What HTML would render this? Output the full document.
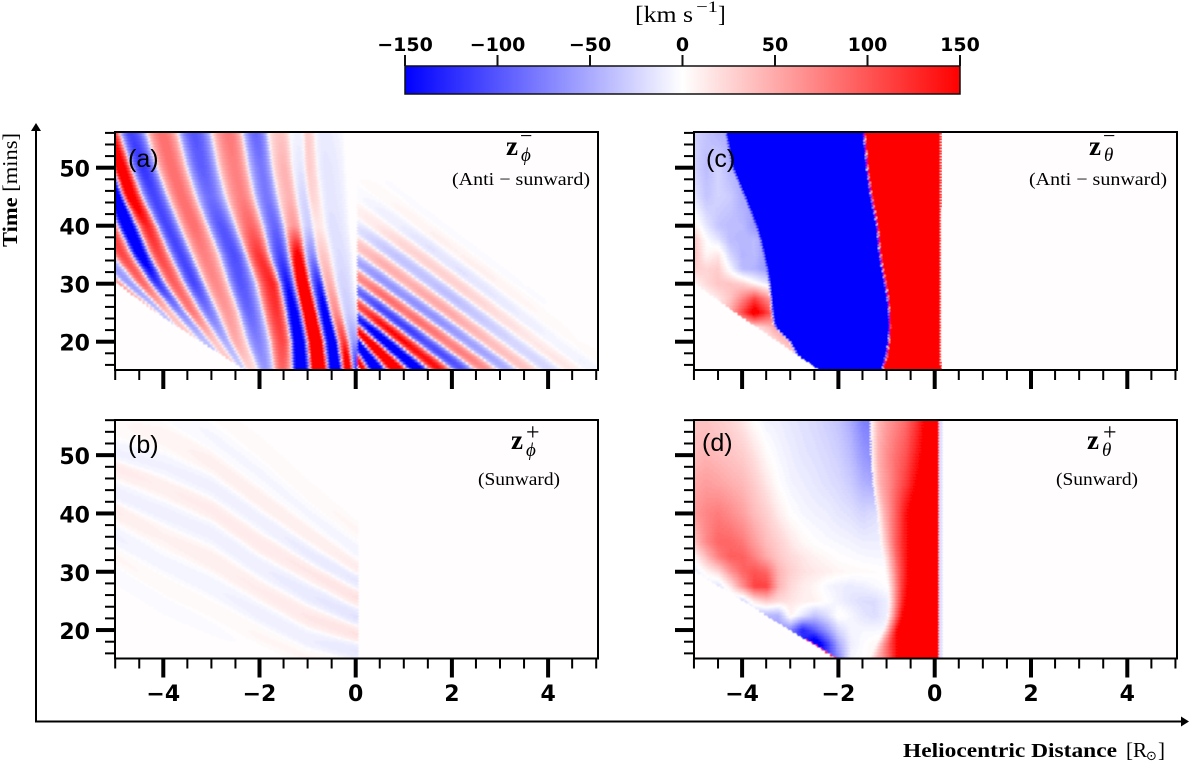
<!DOCTYPE html>
<html lang="en">
<head>
<meta charset="utf-8">
<title>Elsasser variable time-distance maps</title>
<style>
html,body{margin:0;padding:0;background:#fff;}
svg{display:block;}
.tick{font-family:"DejaVu Sans",sans-serif;font-weight:700;fill:#000;}
.cm{font-family:"Liberation Serif",serif;fill:#000;}
.letter{font-family:"Liberation Sans",sans-serif;font-size:25px;fill:#000;}
</style>
</head>
<body>
<svg id="figure" xmlns="http://www.w3.org/2000/svg" width="1200" height="761" viewBox="0 0 1200 761">
  <defs>
    <linearGradient id="bwr" x1="0" x2="1" y1="0" y2="0">
      <stop offset="0" stop-color="#0000ff"/><stop offset="0.5" stop-color="#ffffff"/><stop offset="1" stop-color="#ff0000"/>
    </linearGradient>
    <filter id="soft" x="0" y="0" width="100%" height="100%"><feGaussianBlur stdDeviation="0.45"/></filter>
  </defs>
  <g id="panels"></g>

  <g id="colorbar">
    <rect x="405" y="66" width="555" height="28" fill="url(#bwr)" stroke="#111" stroke-width="1.5"/>
    <text class="cm" x="635" y="22" font-size="23" textLength="58" lengthAdjust="spacingAndGlyphs">[km s</text>
    <text class="cm" x="696" y="12" font-size="16" textLength="22" lengthAdjust="spacingAndGlyphs">−1</text>
    <text class="cm" x="718" y="22" font-size="23">]</text>
  </g>

  <g fill="#000" stroke="none">
    <rect x="35" y="128" width="2" height="594"/>
    <polygon points="36,123 31,131 41,131"/>
    <rect x="35" y="720.5" width="1148" height="2"/>
    <polygon points="1189,721.5 1181,716.5 1181,726.5"/>
  </g>

  <text class="cm" transform="translate(17,247) rotate(-90)" font-size="21" textLength="114" lengthAdjust="spacingAndGlyphs"><tspan font-weight="700">Time</tspan> [mins]</text>
  <text class="cm" x="903" y="757" font-size="20" textLength="214" lengthAdjust="spacingAndGlyphs" font-weight="700">Heliocentric Distance</text>
  <text class="cm" x="1126" y="757" font-size="21">[R</text>
  <text x="1146" y="760" font-size="13" font-family="DejaVu Sans,sans-serif">⊙</text>
  <text class="cm" x="1158" y="757" font-size="21">]</text>

  <text class="letter" x="128" y="167">(a)</text>
  <text class="letter" x="128" y="453">(b)</text>
  <text class="letter" x="706" y="167">(c)</text>
  <text class="letter" x="702" y="451">(d)</text>

  <g>
    <text class="cm" x="506" y="155" font-size="27" font-weight="700">z</text>
    <text class="cm" x="521" y="161" font-size="19" font-style="italic">ϕ</text>
    <text class="cm" x="520" y="143" font-size="22">−</text>
    <text class="cm" x="452" y="185" font-size="18" textLength="138" lengthAdjust="spacingAndGlyphs">(Anti − sunward)</text>
  </g>
  <g>
    <text class="cm" x="511" y="449" font-size="27" font-weight="700">z</text>
    <text class="cm" x="526" y="456" font-size="19" font-style="italic">ϕ</text>
    <text class="cm" x="526" y="440" font-size="24">+</text>
    <text class="cm" x="478" y="485" font-size="18" textLength="82" lengthAdjust="spacingAndGlyphs">(Sunward)</text>
  </g>
  <g>
    <text class="cm" x="1089" y="155" font-size="27" font-weight="700">z</text>
    <text class="cm" x="1104" y="161" font-size="19" font-style="italic">θ</text>
    <text class="cm" x="1103" y="143" font-size="22">−</text>
    <text class="cm" x="1029" y="185" font-size="18" textLength="138" lengthAdjust="spacingAndGlyphs">(Anti − sunward)</text>
  </g>
  <g>
    <text class="cm" x="1087" y="449" font-size="27" font-weight="700">z</text>
    <text class="cm" x="1102" y="456" font-size="19" font-style="italic">θ</text>
    <text class="cm" x="1103" y="440" font-size="24">+</text>
    <text class="cm" x="1056" y="485" font-size="18" textLength="82" lengthAdjust="spacingAndGlyphs">(Sunward)</text>
  </g>
</svg>

<script>
// ---------- axis tick data ----------
const xMajorTicks = [-4, -2, 0, 2, 4];
const xMinorTicks = [-5, -4.5, -3.5, -3, -2.5, -1.5, -1, -0.5, 0.5, 1, 1.5, 2.5, 3, 3.5, 4.5, 5];
const yMajorTicks = [20, 30, 40, 50];
const yMinorTicks = [16, 18, 22, 24, 26, 28, 32, 34, 36, 38, 42, 44, 46, 48, 52, 54, 56];
const colorbarTicks = [-150, -100, -50, 0, 50, 100, 150];

// ---------- panel (a): wave crests, left of x = 0 ----------
const crestTimes = [15, 20, 25, 30, 35, 40, 45, 50, 56];
const crestSigns = [1, -1, 1, -1, 1, -1, 1, -1, 1, -1, 1, -1, 1, -1, 1];
const crestTracks = [
  [-3.26, -3.75, -4.19, -4.96, -5.62, -6.11, -6.52, -6.87, -7.35],
  [-3.06, -3.54, -4.04, -4.71, -5.27, -5.76, -6.24, -6.59, -7.08],
  [-2.85, -3.37, -3.92, -4.43, -4.86, -5.17, -5.41, -5.69, -5.97],
  [-2.64, -3.13, -3.65, -4.13, -4.48, -4.75, -4.98, -5.20, -5.48],
  [-2.47, -2.95, -3.40, -3.78, -4.10, -4.35, -4.70, -4.91, -5.14],
  [-2.35, -2.71, -3.06, -3.37, -3.65, -3.94, -4.20, -4.44, -4.68],
  [-2.19, -2.50, -2.67, -2.92, -3.16, -3.38, -3.62, -3.83, -4.03],
  [-1.88, -2.05, -2.22, -2.40, -2.54, -2.81, -3.04, -3.21, -3.37],
  [-1.53, -1.53, -1.64, -1.74, -2.02, -2.19, -2.38, -2.52, -2.64],
  [-1.14, -1.19, -1.29, -1.43, -1.57, -1.69, -1.86, -1.97, -2.09],
  [-0.77, -0.84, -0.98, -1.12, -1.21, -1.29, -1.39, -1.50, -1.57],
  [-0.41, -0.49, -0.63, -0.77, -0.91, -0.98, -1.08, -1.15, -1.19],
  [-0.15, -0.25, -0.42, -0.56, -0.70, -0.80, -0.91, -0.98, -1.01],
  [0.03, -0.04, -0.15, -0.28, -0.35, -0.49, -0.55, -0.63, -0.70],
  [0.2, 0.2, 0.2, 0.2, 0.2, 0.2, 0.2, 0.2, 0.2]
];
const crestAmps = [
  [30, 30, 30, 60, 40, 0, 0, 0, 0],
  [30, 30, 40, 60, 60, 0, 0, 0, 0],
  [30, 30, 40, 90, 110, 120, 100, 60, 40],
  [30, 40, 70, 120, 170, 190, 190, 150, 100],
  [30, 35, 80, 95, 110, 130, 170, 180, 150],
  [30, 50, 80, 110, 110, 110, 110, 120, 110],
  [25, 50, 60, 70, 75, 85, 85, 85, 85],
  [60, 75, 90, 100, 105, 100, 85, 95, 100],
  [90, 110, 120, 130, 120, 90, 75, 75, 80],
  [200, 190, 170, 140, 110, 90, 80, 80, 90],
  [250, 250, 250, 220, 160, 60, 45, 45, 35],
  [220, 190, 170, 130, 70, 30, 25, 15, 8],
  [200, 120, 70, 50, 35, 15, 25, 30, 30],
  [140, 60, 30, 25, 20, 18, 15, 15, 12],
  [0, 0, 0, 0, 0, 0, 0, 0, 0]
];
const frontATimes = [15, 20, 25, 30, 35];
const frontAX = [-2.29, -3.23, -4.16, -4.96, -5.6];

// ---------- panel (a): wave crests, right of x = 0 ----------
const rightCrestBottomX = [0.11, 0.44, 0.88, 1.33, 1.79, 2.27, 2.75, 3.2, 3.6, 4.1, 4.55, 5.0, 5.45, 5.9];
const rightCrestZeroTime = [16.5, 20, 22, 24.3, 26.6, 29, 31.5, 34, 37, 40, 43, 46, 49, 52];
const rightCrestSigns = [1, -1, 1, -1, 1, -1, 1, -1, 1, -1, 1, -1, 1, -1];
const envelopeX = [0, 0.5, 1, 1.5, 2, 2.5, 3, 3.5, 4, 4.5, 5];
const envelopeT = [15, 20, 25, 30, 35, 40, 45, 50, 56];
const envelopeGrid = [
  [200, 200, 200, 170, 120, 80, 55, 38, 25, 14, 6],
  [170, 190, 150, 100, 70, 50, 32, 18, 8, 2, 0],
  [120, 120, 85, 65, 50, 32, 18, 8, 2, 0, 0],
  [80, 70, 50, 40, 30, 16, 7, 1, 0, 0, 0],
  [45, 40, 32, 22, 10, 4, 0, 0, 0, 0, 0],
  [15, 14, 10, 5, 1, 0, 0, 0, 0, 0, 0],
  [4, 4, 2, 0, 0, 0, 0, 0, 0, 0, 0],
  [0, 0, 0, 0, 0, 0, 0, 0, 0, 0, 0],
  [0, 0, 0, 0, 0, 0, 0, 0, 0, 0, 0]
];

// ---------- panel (b): crest time versus distance ----------
const bandBX = [-5, -4, -3, -2, -1, 0];
const bandBSigns = [1, -1, 1, -1, 1, -1, 1, -1, 1, -1, 1, -1];
const bandBTimes = [
  [25, 20, 16, 12, 8, 6],
  [29.7, 24.5, 20.5, 15.9, 11.8, 10],
  [32.5, 27.4, 23.3, 18.7, 15.3, 13],
  [36, 31.4, 27.4, 22.8, 18.2, 16.4],
  [40.6, 36, 32, 26.8, 22.2, 19.3],
  [43.4, 40, 36.6, 30.8, 26.2, 22.2],
  [48, 44.6, 40.6, 34.8, 30.2, 25.6],
  [50.3, 48, 44.6, 38.9, 33.1, 28.5],
  [55.5, 53.2, 48.6, 42.3, 36.6, 30.8],
  [61.3, 58.4, 53.2, 46.9, 40, 33.7],
  [66, 63, 57.8, 51.5, 44, 37.1],
  [70, 68, 62, 56, 48, 41]
];
const bandBAmps = [
  [0, 0, 0, 0, 0, 0],
  [3, 3, 2, 1, 0, 0],
  [5, 4, 3, 5, 5, 3],
  [8, 6, 7, 9, 10, 14],
  [11, 8, 10, 11, 14, 17],
  [9, 9, 9, 10, 13, 17],
  [12, 10, 12, 13, 14, 17],
  [8, 8, 9, 9, 12, 14],
  [4, 6, 9, 10, 10, 11],
  [2, 3, 5, 5, 5, 6],
  [0, 0, 2, 3, 4, 5],
  [0, 0, 0, 0, 0, 0]
];

// ---------- panel (c) ----------
const cTimes = [15, 17.5, 20, 22.5, 25, 27.5, 30, 32.5, 35, 37.5, 40, 45, 50, 56];
const cBlueLeft = [-2.38, -2.80, -2.97, -3.28, -3.34, -3.36, -3.39, -3.43, -3.50, -3.57, -3.66, -3.90, -4.15, -4.29];
const cBlueRight = [-1.10, -1.01, -0.96, -0.94, -0.95, -0.98, -1.03, -1.09, -1.14, -1.17, -1.20, -1.32, -1.41, -1.47];
const cRedRight = [0.13, 0.11, 0.11, 0.10, 0.10, 0.10, 0.11, 0.11, 0.11, 0.11, 0.11, 0.12, 0.12, 0.12];
const frontCTimes = [15, 20, 25, 30, 35];
const frontCX = [-2.38, -3.26, -4.15, -4.98, -5.6];
const cGridX = [-5, -4.75, -4.5, -4.25, -4, -3.75, -3.5, -3.25, -3];
const cGridT = [15, 17.5, 20, 22.5, 25, 27.5, 30, 32.5, 35, 37.5, 40, 45, 50, 56];
const cGrid = [
  [0, 0, 0, 0, 0, 0, 0, 0, 0],
  [0, 0, 0, 0, 0, 0, 0, 0, 20],
  [0, 0, 0, 0, 0, 0, 0, 30, 50],
  [0, 0, 0, 0, 0, 15, 35, 60, 40],
  [0, 0, 10, 50, 110, 170, 120, 60, 30],
  [0, 0, 15, 35, 70, 110, 70, 30, 0],
  [5, 22, 35, 35, 28, 5, -12, -40, -40],
  [30, 25, 30, -5, -40, -45, -60, -60, -60],
  [40, 5, 15, -25, -45, -40, -60, -60, -60],
  [35, 0, -15, -40, -42, -40, -60, -60, -60],
  [10, -15, -35, -40, -40, -60, -60, -60, -60],
  [-15, -35, -25, -30, -50, -50, -50, -50, -50],
  [-25, -40, -25, -45, -50, -50, -50, -50, -50],
  [-25, -35, -45, -50, -50, -50, -50, -50, -50]
];

// ---------- panel (d) ----------
const frontDTimes = [15, 17.5, 20, 22.5, 25, 27.5, 30, 32.5];
const frontDX = [-2.04, -2.52, -3.02, -3.51, -3.99, -4.49, -4.98, -5.5];
const dGridX = [-5, -4.75, -4.5, -4.25, -4, -3.75, -3.5, -3.25, -3, -2.75, -2.5, -2.25, -2, -1.75, -1.5, -1.25, -1];
const dGridT = [15, 17.5, 20, 22.5, 25, 27.5, 30, 32.5, 35, 40, 45, 50, 56];
const dGrid = [
  [-40, -40, -40, -40, -40, -40, -40, -60, -60, -100, -120, -120, -70, -5, 0, 5, 30],
  [-30, -30, -30, -30, -40, -40, -50, -60, -80, -120, -190, -120, -50, -10, -2, 5, 10],
  [-25, -25, -25, -30, -35, -40, -50, -60, -70, -130, -95, -60, -22, -6, -5, -5, -5],
  [-20, -20, -20, -22, -30, -40, -42, -45, 8, -15, -35, -20, 3, -5, -15, -20, -10],
  [-15, -15, -15, -20, -28, 15, 32, 22, 16, 10, 8, 0, -8, -15, -20, -20, -10],
  [-10, -15, -20, 15, 65, 112, 112, 45, 22, 12, 5, -5, -10, -12, -10, -5, 0],
  [-15, 5, 22, 62, 90, 102, 90, 45, 28, 18, 14, 10, 6, 4, 3, 2, 0],
  [5, 40, 75, 95, 95, 75, 50, 33, 22, 15, 8, 4, 0, -2, -4, -5, -5],
  [35, 70, 90, 90, 80, 58, 40, 28, 15, 5, 0, -3, -5, -7, -10, -10, -10],
  [60, 72, 78, 68, 56, 40, 28, 12, 0, -5, -8, -10, -15, -18, -25, -20, -10],
  [52, 58, 54, 48, 42, 30, 15, 0, -7, -10, -14, -18, -22, -30, -45, -50, -50],
  [40, 45, 40, 35, 30, 18, 3, -5, -10, -15, -18, -22, -28, -40, -60, -70, -70],
  [35, 35, 30, 25, 15, 0, -8, -10, -15, -18, -22, -28, -35, -50, -75, -80, -80]
];
const dRimTimes = [15, 18.5];
const dRimWidth = [0.05, 0.03];
const dBandTimes = [15, 17.5, 20, 22.5, 25, 27.5, 30, 32.5, 35, 40, 45, 50, 56];
const dBandLeft = [-1.38, -1.24, -1.07, -0.98, -0.96, -0.98, -1.03, -1.08, -1.14, -1.20, -1.29, -1.33, -1.34];
const dBandRight = [0.08, 0.08, 0.08, 0.08, 0.08, 0.08, 0.08, 0.08, 0.08, 0.08, 0.08, 0.08, 0.08];
const dProfileS = [0, 0.1, 0.25, 0.5, 0.7, 0.85, 1];
const dProfileT = [15, 20, 25, 30, 35, 40, 45, 50, 56];
const dProfile = [
  [0, 35, 80, 190, 240, 250, 200],
  [0, 60, 150, 210, 240, 250, 200],
  [0, 50, 120, 200, 230, 240, 200],
  [0, 35, 95, 170, 210, 220, 200],
  [0, 35, 90, 155, 200, 210, 200],
  [0, 40, 80, 150, 190, 200, 200],
  [0, 45, 70, 115, 160, 190, 200],
  [0, 45, 70, 100, 140, 175, 190],
  [0, 40, 60, 85, 125, 170, 190]
];

// ---------- helpers ----------
function interp(xs, ys, v) {
  if (v <= xs[0]) return ys[0];
  const n = xs.length - 1;
  if (v >= xs[n]) return ys[n];
  let i = 0;
  while (v > xs[i + 1]) i++;
  return ys[i] + (ys[i + 1] - ys[i]) * (v - xs[i]) / (xs[i + 1] - xs[i]);
}
function bilinear(xs, ts, grid, x, t) {
  const rowA = ts.findIndex((d, k) => k === ts.length - 1 || t < ts[k + 1]);
  const rowB = Math.min(rowA + 1, ts.length - 1);
  const a = interp(xs, grid[rowA], x);
  const b = interp(xs, grid[rowB], x);
  if (rowA === rowB || t <= ts[rowA]) return a;
  return a + (b - a) * (t - ts[rowA]) / (ts[rowB] - ts[rowA]);
}
function shaped(c) { return Math.pow(Math.abs(c), 0.55); }
function waveBetween(u, pos, signs, amps) {
  let i = pos.length - 1;
  while (i >= 0 && pos[i] > u) i--;
  if (i < 0 || i >= pos.length - 1) return 0;
  const s = (u - pos[i]) / (pos[i + 1] - pos[i]);
  const c = Math.cos(Math.PI * s);
  return c > 0 ? signs[i] * amps[i] * shaped(c) : signs[i + 1] * amps[i + 1] * shaped(c);
}

// ---------- scalar fields, in data units ----------
function fieldA(x, t) {
  if (x < interp(frontATimes, frontAX, t)) return 0;
  if (x < 0.03) {
    const pos = crestTracks.map(tr => interp(crestTimes, tr, t));
    const amp = crestAmps.map(tr => interp(crestTimes, tr, t));
    return waveBetween(x, pos, crestSigns, amp);
  }
  const env = bilinear(envelopeX, envelopeT, envelopeGrid, x, t);
  if (env <= 0) return 0;
  const pos = rightCrestBottomX.map((b, k) => b * (rightCrestZeroTime[k] - t) / (rightCrestZeroTime[k] - 15));
  let i = pos.length - 1;
  while (i >= 0 && pos[i] > x) i--;
  if (i < 0 || i >= pos.length - 1) return 0;
  const s = (x - pos[i]) / (pos[i + 1] - pos[i]);
  const c = Math.cos(Math.PI * s);
  const sign = c > 0 ? rightCrestSigns[i] : rightCrestSigns[i + 1];
  return sign * env * shaped(c);
}
function fieldB(x, t) {
  if (x > 0.05) return 0;
  const pos = bandBTimes.map(tr => interp(bandBX, tr, x));
  const amp = bandBAmps.map(tr => interp(bandBX, tr, x));
  return waveBetween(t, pos, bandBSigns, amp);
}
function fieldC(x, t) {
  if (x < interp(frontCTimes, frontCX, t)) return 0;
  const L = interp(cTimes, cBlueLeft, t);
  const R = interp(cTimes, cBlueRight, t);
  const E = interp(cTimes, cRedRight, t);
  if (x >= E) return 0;
  const edge = 0.07, seam = 0.02;
  if (x > R + seam) return 300;
  if (x > R - seam) return -300 + 600 * (x - R + seam) / (2 * seam);
  if (x >= L) return -300;
  const g = bilinear(cGridX, cGridT, cGrid, x, t);
  if (x > L - edge) return g + (-300 - g) * (x - L + edge) / edge;
  return g;
}
function fieldD(x, t) {
  const F = interp(frontDTimes, frontDX, t);
  if (x < F) return 0;
  if (t < dRimTimes[1] && x < F + interp(dRimTimes, dRimWidth, t)) return 130;
  const L = interp(dBandTimes, dBandLeft, t);
  const E = interp(dBandTimes, dBandRight, t);
  if (x >= E) return x < E + 0.08 ? -18 : 0;
  if (x > L) return bilinear(dProfileS, dProfileT, dProfile, (x - L) / (E - L), t);
  return bilinear(dGridX, dGridT, dGrid, x, t);
}

// ---------- drawing ----------
const NS = 'http://www.w3.org/2000/svg';
const panelsRoot = document.getElementById('panels');
function make(tag, attrs, parent) {
  const el = document.createElementNS(NS, tag);
  for (const k in attrs) el.setAttribute(k, attrs[k]);
  parent.appendChild(el);
  return el;
}
function colorOf(q) {
  const f = Math.min(1, Math.abs(q) / 150);
  const c = Math.round(255 * (1 - f));
  return q > 0 ? 'rgb(255,' + c + ',' + c + ')' : 'rgb(' + c + ',' + c + ',255)';
}

const panelDefs = [
  { id: 'a', left: 115, right: 598, top: 132, bottom: 370, x0: 355.7, xk: 48.1, t15: 370.7, tk: 5.8, field: fieldA, xLabels: false, yLabels: true },
  { id: 'b', left: 115, right: 598, top: 420, bottom: 658.5, x0: 355.7, xk: 48.1, t15: 659.2, tk: 5.83, field: fieldB, xLabels: true, yLabels: true },
  { id: 'c', left: 694, right: 1177, top: 132, bottom: 370, x0: 934.7, xk: 48.15, t15: 370.7, tk: 5.8, field: fieldC, xLabels: false, yLabels: false },
  { id: 'd', left: 694, right: 1177, top: 420, bottom: 658.5, x0: 934.7, xk: 48.15, t15: 659.2, tk: 5.83, field: fieldD, xLabels: true, yLabels: false }
];

function drawPanel(p) {
  const xScale = v => p.x0 + p.xk * v;
  const yScale = t => p.t15 - p.tk * (t - 15);
  const g = make('g', {}, panelsRoot);
  
  

  const clip = make('clipPath', { id: 'clip-' + p.id }, g);
  make('rect', { x: p.left, y: p.top, width: p.right - p.left, height: p.bottom - p.top }, clip);

  const bg = make('rect', { x: p.left, y: p.top, width: p.right - p.left, height: p.bottom - p.top, fill: '#fffdfe' }, g);
  
  

  const clipG = make('g', { 'clip-path': 'url(#clip-' + p.id + ')' }, g);
  const map = make('g', { filter: 'url(#soft)', 'shape-rendering': 'crispEdges' }, clipG);
  
  

  const dt = 0.25, dx = 0.025, step = 3;
  const xMin = (p.left - p.x0) / p.xk, xMax = (p.right - p.x0) / p.xk;
  let row = 0;
  for (let t = 15 - dt; t < 56.5; t += dt, row++) {
    const stagger = row % 2 ? 0.02 : -0.01;
    const yTop = yScale(t + dt), yBot = yScale(t);
    let runStart = null, runQ = 0;
    for (let x = xMin; x <= xMax + dx; x += dx) {
      const q = x > xMax ? 0 : Math.round(Math.max(-150, Math.min(150, p.field(x + stagger, t + dt / 2))) / step) * step;
      if (runStart !== null && q !== runQ) {
        const cell = make('rect', { x: xScale(runStart), y: yTop, width: xScale(x) - xScale(runStart), height: yBot - yTop, fill: colorOf(runQ) }, map);
        
        
        runStart = null;
      }
      if (q !== 0 && runStart === null) { runStart = x; runQ = q; }
    }
  }

  const frame = make('rect', { x: p.left, y: p.top, width: p.right - p.left, height: p.bottom - p.top, fill: 'none', stroke: '#000', 'stroke-width': 2 }, g);
  
  

  xMinorTicks.forEach(v => {
    const tick = make('rect', { x: xScale(v) - 1, y: p.bottom, width: 2, height: 10, fill: '#000' }, g);
    
    
  });
  xMajorTicks.forEach(v => {
    const tick = make('rect', { x: xScale(v) - 2, y: p.bottom, width: 4, height: 19, fill: '#000' }, g);
    
    
    if (p.xLabels) {
      const lab = make('text', { x: xScale(v), y: p.bottom + 42.5, 'text-anchor': 'middle', class: 'tick', 'font-size': 22 }, g);
      lab.textContent = String(v).replace('-', '\u2212');
      
      
    }
  });
  yMinorTicks.forEach(v => {
    const tick = make('rect', { x: p.left - 10, y: yScale(v) - 1, width: 10, height: 2, fill: '#000' }, g);
    
    
  });
  yMajorTicks.forEach(v => {
    const tick = make('rect', { x: p.left - 19, y: yScale(v) - 2, width: 19, height: 4, fill: '#000' }, g);
    
    
    if (p.yLabels) {
      const lab = make('text', { x: 90, y: yScale(v) + 9, 'text-anchor': 'end', class: 'tick', 'font-size': 22 }, g);
      lab.textContent = String(v);
      
      
    }
  });
}
panelDefs.forEach(drawPanel);

// ---------- colorbar ticks ----------
const colorbarGroup = document.getElementById('colorbar');
const cbScale = v => 405 + (v + 150) / 300 * 555;
colorbarTicks.forEach(v => {
  const tick = make('rect', { x: cbScale(v) - 1, y: 55, width: 2, height: 11, fill: '#111' }, colorbarGroup);
  
  
  const lab = make('text', { x: cbScale(v), y: 51, 'text-anchor': 'middle', class: 'tick', 'font-size': 19 }, colorbarGroup);
  lab.textContent = String(v).replace('-', '\u2212');
  
  
});
</script>
</body>
</html>
